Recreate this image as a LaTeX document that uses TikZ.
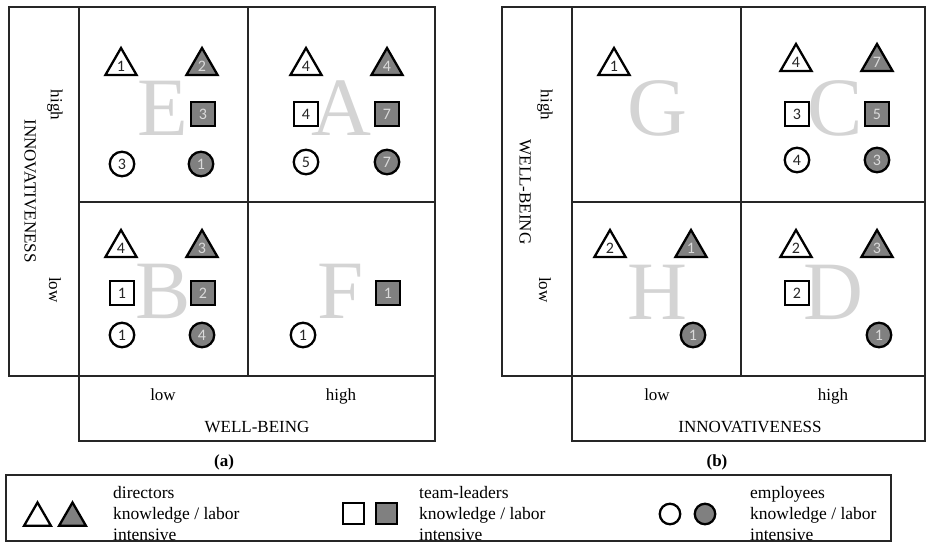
\documentclass[tikz,border=0pt]{standalone}
\usepackage{fontspec}
\setmainfont{Liberation Serif}
\newfontfamily\numfont{Carlito}
\usetikzlibrary{shapes.geometric}
\definecolor{laborgray}{RGB}{128,128,128}
\definecolor{lettergray}{RGB}{212,212,212}
\definecolor{numlight}{RGB}{218,218,218}

\tikzset{
	boxline/.style={line width=1.3pt, black!85},
	member/.style={draw=black, line width=2.3pt, inner sep=0pt, font=\numfont\fontsize{16}{16}\selectfont},
	know/.style={member, fill=white, text=black!85},
	labor/.style={member, fill=laborgray, text=numlight},
	tri/.style={regular polygon, regular polygon sides=3, minimum size=36pt},
	sq/.style={rectangle, minimum size=24.5pt},
	circ/.style={circle, minimum size=24.5pt},
	bigletter/.style={inner sep=0pt, text=lettergray, font=\fontsize{83}{83}\selectfont},
	axislabel/.style={inner sep=0pt, font=\fontsize{17}{17}\selectfont},
	sidelabel/.style={axislabel, rotate=-90},
	legendtext/.style={align=left, anchor=west, inner sep=0pt, font=\fontsize{17.5}{21}\selectfont}
}

\begin{document}
\begin{tikzpicture}[x=1pt,y=-1pt]
		\useasboundingbox (0,0) rectangle (927,543);
		%panel (a)
		\draw[boxline] (9,7) rectangle (435,376);
		\draw[boxline] (79,7) -- (79,441) -- (435,441) -- (435,376);
		\draw[boxline] (248,7) -- (248,376);
		\draw[boxline] (79,202) -- (435,202);
		%panel (b)
		\draw[boxline] (502,7) rectangle (925,376);
		\draw[boxline] (572,7) -- (572,441) -- (925,441) -- (925,376);
		\draw[boxline] (741,7) -- (741,376);
		\draw[boxline] (572,202) -- (925,202);

		%big letters of the quadrants
		\node[bigletter] (letE) at (163,108) {E};
		\node[bigletter] (letA) at (341,108) {A};
		\node[bigletter] (letB) at (163,291) {B};
		\node[bigletter] (letF) at (341,291) {F};
		\node[bigletter] (letG) at (657,108) {G};
		\node[bigletter] (letC) at (835,108) {C};
		\node[bigletter] (letH) at (657,292) {H};
		\node[bigletter] (letD) at (833,292) {D};

		%axis labels (a)
		\node[axislabel, anchor=base] (aLow) at (163,400) {low};
		\node[axislabel, anchor=base] (aHigh) at (341,400) {high};
		\node[axislabel, anchor=base] (aWell) at (257,432) {WELL-BEING};
		\node[sidelabel] (aHighV) at (55,105) {high};
		\node[sidelabel] (aInno) at (30,191) {INNOVATIVENESS};
		\node[sidelabel] (aLowV) at (55,290) {low};
		\node[axislabel, anchor=base, font=\fontsize{17}{17}\selectfont\bfseries] (capA) at (224,466) {(a)};
		%axis labels (b)
		\node[axislabel, anchor=base] (bLow) at (657,400) {low};
		\node[axislabel, anchor=base] (bHigh) at (833,400) {high};
		\node[axislabel, anchor=base] (bInno) at (750,432) {INNOVATIVENESS};
		\node[sidelabel] (bHighV) at (545,105) {high};
		\node[sidelabel] (bWell) at (525,192) {WELL-BEING};
		\node[sidelabel] (bLowV) at (545,290) {low};
		\node[axislabel, anchor=base, font=\fontsize{17}{17}\selectfont\bfseries] (capB) at (717,466) {(b)};

		%quadrant E
		\node[know, tri] (eTriK) at (121,66) {1};
		\node[labor, tri] (eTriL) at (202,66) {2};
		\node[labor, sq] (eSqL) at (203,114) {3};
		\node[know, circ] (eCircK) at (122,164) {3};
		\node[labor, circ] (eCircL) at (201,164) {1};
		%quadrant A
		\node[know, tri] (aTriK) at (306,66) {4};
		\node[labor, tri] (aTriL) at (387,66) {4};
		\node[know, sq] (aSqK) at (306,114) {4};
		\node[labor, sq] (aSqL) at (387,114) {7};
		\node[know, circ] (aCircK) at (306,162) {5};
		\node[labor, circ] (aCircL) at (387,162) {7};
		%quadrant B
		\node[know, tri] (bTriK) at (121,248) {4};
		\node[labor, tri] (bTriL) at (202,248) {3};
		\node[know, sq] (bSqK) at (122,293) {1};
		\node[labor, sq] (bSqL) at (203,293) {2};
		\node[know, circ] (bCircK) at (122,335) {1};
		\node[labor, circ] (bCircL) at (202,335) {4};
		%quadrant F
		\node[labor, sq] (fSqL) at (388,293) {1};
		\node[know, circ] (fCircK) at (303,335) {1};

		%quadrant G
		\node[know, tri] (gTriK) at (614,66) {1};
		%quadrant C
		\node[know, tri] (cTriK) at (796,62) {4};
		\node[labor, tri] (cTriL) at (877,62) {7};
		\node[know, sq] (cSqK) at (797,114) {3};
		\node[labor, sq] (cSqL) at (877,114) {5};
		\node[know, circ] (cCircK) at (797,160) {4};
		\node[labor, circ] (cCircL) at (877,160) {3};
		%quadrant H
		\node[know, tri] (hTriK) at (610,248) {2};
		\node[labor, tri] (hTriL) at (691,248) {1};
		\node[labor, circ] (hCircL) at (693,335) {1};
		%quadrant D
		\node[know, tri] (dTriK) at (796,248) {2};
		\node[labor, tri] (dTriL) at (877,248) {3};
		\node[know, sq] (dSqK) at (797,293) {2};
		\node[labor, circ] (dCircL) at (879,335) {1};

		%legend
		\draw[boxline] (6,475) rectangle (891,541);
		\node[know, tri, minimum size=31pt] (legTriK) at (37.5,518) {};
		\node[labor, tri, minimum size=31pt] (legTriL) at (72.5,518) {};
		\node[legendtext] (legDir) at (113,514) {directors\\knowledge / labor\\intensive};
		\node[know, sq, minimum size=20.5pt] (legSqK) at (353.5,513.5) {};
		\node[labor, sq, minimum size=20.5pt] (legSqL) at (386.5,513.5) {};
		\node[legendtext] (legTeam) at (419,514) {team-leaders\\knowledge / labor\\intensive};
		\node[know, circ, minimum size=20.5pt] (legCircK) at (670,514) {};
		\node[labor, circ, minimum size=20.5pt] (legCircL) at (705,514) {};
		\node[legendtext] (legEmp) at (750,514) {employees\\knowledge / labor\\intensive};
\end{tikzpicture}
\end{document}
